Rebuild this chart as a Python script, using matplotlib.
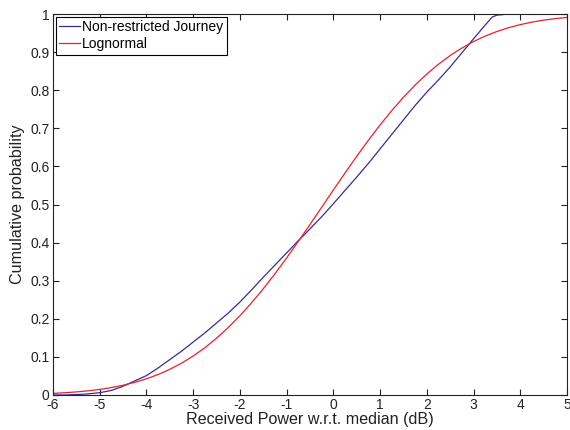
import matplotlib
matplotlib.use("Agg")
import matplotlib.pyplot as plt

plt.rcParams["font.family"] = ["Liberation Sans", "DejaVu Sans"]
plt.rcParams["axes.unicode_minus"] = False

journey_x = [-6, -5.75, -5.5, -5.25, -5, -4.75, -4.5, -4.25, -4, -3.75, -3.5, -3.25,
             -3, -2.75, -2.5, -2.25, -2, -1.75, -1.5, -1.25, -1, -0.75, -0.5, -0.25,
             0, 0.25, 0.5, 0.75, 1, 1.25, 1.5, 1.75, 2, 2.25, 2.5, 2.75, 3, 3.25,
             3.4, 3.5, 3.75, 5]
journey_y = [0.000, 0.000, 0.001, 0.003, 0.006, 0.012, 0.023, 0.037, 0.051, 0.071,
             0.093, 0.115, 0.139, 0.163, 0.189, 0.215, 0.244, 0.276, 0.309, 0.341,
             0.373, 0.405, 0.436, 0.468, 0.502, 0.537, 0.572, 0.608, 0.646, 0.684,
             0.722, 0.760, 0.795, 0.827, 0.861, 0.898, 0.935, 0.971, 0.992, 0.997,
             1.000, 1.000]

# Lognormal fit CDF
logn_x = [-6, -5.75, -5.5, -5.25, -5, -4.75, -4.5, -4.25, -4, -3.75, -3.5, -3.25,
          -3, -2.75, -2.5, -2.25, -2, -1.75, -1.5, -1.25, -1, -0.75, -0.5, -0.25,
          0, 0.25, 0.5, 0.75, 1, 1.25, 1.5, 1.75, 2, 2.25, 2.5, 2.75, 3, 3.25,
          3.5, 3.75, 4, 4.25, 4.5, 4.75, 5]
logn_y = [0.0042, 0.0059, 0.0081, 0.0110, 0.0147, 0.0195, 0.0256, 0.0332, 0.0425,
          0.0538, 0.0674, 0.0835, 0.1024, 0.1241, 0.1490, 0.1769, 0.2079, 0.2420,
          0.2789, 0.3181, 0.3598, 0.4032, 0.4475, 0.4928, 0.5380, 0.5828, 0.6266,
          0.6686, 0.7088, 0.7466, 0.7815, 0.8135, 0.8425, 0.8682, 0.8910, 0.9107,
          0.9277, 0.9421, 0.9541, 0.9641, 0.9722, 0.9787, 0.9839, 0.9879, 0.9911]

x_ticks = list(range(-6, 6))
y_ticks = [0, 0.1, 0.2, 0.3, 0.4, 0.5, 0.6, 0.7, 0.8, 0.9, 1]
y_labels = ["0", "0.1", "0.2", "0.3", "0.4", "0.5", "0.6", "0.7", "0.8", "0.9", "1"]

fig = plt.figure(figsize=(5.7, 4.3), dpi=100)
ax = fig.add_axes([0.093, 0.0814, 0.9017, 0.886])

ax.plot(journey_x, journey_y, color="#3b2a98", linewidth=0.9, label="Non-restricted Journey")
ax.plot(logn_x, logn_y, color="#f01e28", linewidth=0.9, label="Lognormal")

ax.set_xlim(-6, 5)
ax.set_ylim(0, 1)
ax.set_xticks(x_ticks)
ax.set_yticks(y_ticks)
ax.set_yticklabels(y_labels)
ax.tick_params(direction="in", top=True, right=True, length=4, width=0.8,
               labelsize=10, colors="#222222", pad=2.5)
for s in ax.spines.values():
    s.set_color("#222222")
    s.set_linewidth(0.8)

ax.set_xlabel("Received Power w.r.t. median (dB)", fontsize=11.6, color="#222222", labelpad=0)
ax.set_ylabel("Cumulative probability", fontsize=11.6, color="#222222", labelpad=4)

leg = ax.legend(loc="upper left", fontsize=10, frameon=True, fancybox=False,
                handlelength=1.5, handletextpad=0.15, borderpad=0.25,
                labelspacing=0.2, borderaxespad=0.2)
leg.get_frame().set_edgecolor("black")
leg.get_frame().set_linewidth(0.8)
leg.get_frame().set_alpha(1)

fig.savefig("out.png", dpi=100)
